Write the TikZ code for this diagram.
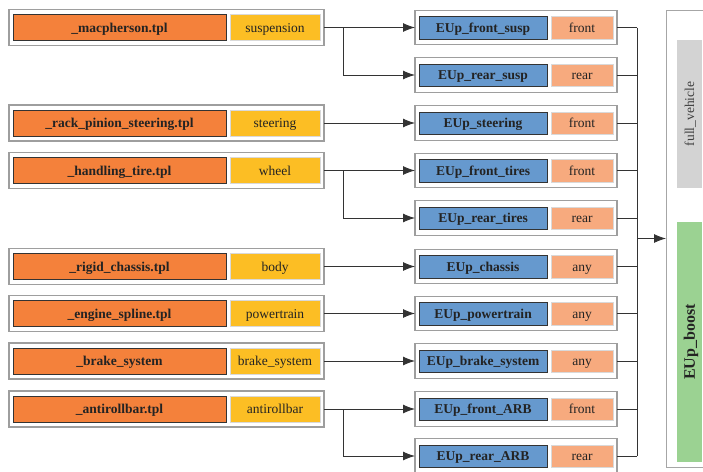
\documentclass[tikz,border=0pt]{standalone}
\usepackage{fontspec}
\setmainfont{Liberation Serif}
\usetikzlibrary{positioning,fit,arrows.meta}

\definecolor{tplorange}{RGB}{244,129,59}
\definecolor{roleyellow}{RGB}{252,190,36}
\definecolor{subblue}{RGB}{102,153,206}
\definecolor{sidesalmon}{RGB}{247,170,126}
\definecolor{asmgray}{RGB}{211,211,211}
\definecolor{asmgreen}{RGB}{155,210,146}
\definecolor{inktext}{RGB}{35,35,35}

\begin{document}
\begin{tikzpicture}
    [ x=1pt, y=-1pt
    , every node/.style={font=\fontsize{13.5}{15}\selectfont, text=inktext, inner sep=0pt, outer sep=0pt, text height=9pt, text depth=0pt}
    , tplfile/.style={draw=black!80, fill=tplorange, minimum width=213pt, minimum height=26pt, font=\fontsize{13.5}{15}\selectfont\bfseries}
    , role/.style={draw=black!15, fill=roleyellow, minimum width=90pt, minimum height=26pt}
    , subsys/.style={draw=black!80, fill=subblue, minimum width=128pt, minimum height=22.5pt, font=\fontsize{13.5}{15}\selectfont\bfseries}
    , side/.style={draw=black!15, fill=sidesalmon, minimum width=62pt, minimum height=22.5pt}
    , frame/.style={draw=black!38, line width=1.4pt, inner xsep=4pt, inner ysep=5pt}
    , link/.style={draw=black!80, line width=0.9pt}
    , feed/.style={link, -{Latex[length=12pt,width=9pt]}}
    ]

    \useasboundingbox (0,0) rectangle (703,471);
    \clip (0,0) rectangle (703,471);

    % template files and their roles
    \node [tplfile] (mac) at (119.5,27.5) {\_macpherson.tpl};
    \node [role, right=4pt of mac] (mac-r) {suspension};
    \node [frame, fit=(mac)(mac-r)] (mac-f) {};

    \node [tplfile] (rack) at (119.5,123) {\_rack\_pinion\_steering.tpl};
    \node [role, right=4pt of rack] (rack-r) {steering};
    \node [frame, fit=(rack)(rack-r)] (rack-f) {};

    \node [tplfile] (hand) at (119.5,170.5) {\_handling\_tire.tpl};
    \node [role, right=4pt of hand] (hand-r) {wheel};
    \node [frame, fit=(hand)(hand-r)] (hand-f) {};

    \node [tplfile] (rig) at (119.5,266.5) {\_rigid\_chassis.tpl};
    \node [role, right=4pt of rig] (rig-r) {body};
    \node [frame, fit=(rig)(rig-r)] (rig-f) {};

    \node [tplfile] (eng) at (119.5,313.5) {\_engine\_spline.tpl};
    \node [role, right=4pt of eng] (eng-r) {powertrain};
    \node [frame, fit=(eng)(eng-r)] (eng-f) {};

    \node [tplfile] (brk) at (119.5,361) {\_brake\_system};
    \node [role, right=4pt of brk] (brk-r) {brake\_system};
    \node [frame, fit=(brk)(brk-r)] (brk-f) {};

    \node [tplfile] (arb) at (119.5,409) {\_antirollbar.tpl};
    \node [role, right=4pt of arb] (arb-r) {antirollbar};
    \node [frame, fit=(arb)(arb-r)] (arb-f) {};

    % subsystems and their sides
    \node [subsys] (fs) at (483,27.5) {EUp\_front\_susp};
    \node [side, right=4pt of fs] (fs-s) {front};
    \node [frame, inner ysep=6pt, fit=(fs)(fs-s)] (fs-f) {};

    \node [subsys] (rs) at (483,75) {EUp\_rear\_susp};
    \node [side, right=4pt of rs] (rs-s) {rear};
    \node [frame, inner ysep=6pt, fit=(rs)(rs-s)] (rs-f) {};

    \node [subsys] (st) at (483,123) {EUp\_steering};
    \node [side, right=4pt of st] (st-s) {front};
    \node [frame, inner ysep=6pt, fit=(st)(st-s)] (st-f) {};

    \node [subsys] (ft) at (483,170.5) {EUp\_front\_tires};
    \node [side, right=4pt of ft] (ft-s) {front};
    \node [frame, inner ysep=6pt, fit=(ft)(ft-s)] (ft-f) {};

    \node [subsys] (rt) at (483,218) {EUp\_rear\_tires};
    \node [side, right=4pt of rt] (rt-s) {rear};
    \node [frame, inner ysep=6pt, fit=(rt)(rt-s)] (rt-f) {};

    \node [subsys] (ch) at (483,266.5) {EUp\_chassis};
    \node [side, right=4pt of ch] (ch-s) {any};
    \node [frame, inner ysep=6pt, fit=(ch)(ch-s)] (ch-f) {};

    \node [subsys] (pt) at (483,313.5) {EUp\_powertrain};
    \node [side, right=4pt of pt] (pt-s) {any};
    \node [frame, inner ysep=6pt, fit=(pt)(pt-s)] (pt-f) {};

    \node [subsys] (bs) at (483,361) {EUp\_brake\_system};
    \node [side, right=4pt of bs] (bs-s) {any};
    \node [frame, inner ysep=6pt, fit=(bs)(bs-s)] (bs-f) {};

    \node [subsys] (fa) at (483,409) {EUp\_front\_ARB};
    \node [side, right=4pt of fa] (fa-s) {front};
    \node [frame, inner ysep=6pt, fit=(fa)(fa-s)] (fa-f) {};

    \node [subsys] (ra) at (483,456) {EUp\_rear\_ARB};
    \node [side, right=4pt of ra] (ra-s) {rear};
    \node [frame, inner ysep=6pt, fit=(ra)(ra-s)] (ra-f) {};

    % assembly
    \node [draw=black!35, line width=1pt, minimum width=80pt, minimum height=457pt, anchor=north west] (veh) at (666,10) {};
    \node [rotate=90, fill=asmgray, minimum width=148pt, minimum height=25pt, text=black!75, font=\fontsize{13.5}{14}\selectfont] (full) at (689.5,114) {full\_vehicle};
    \node [rotate=90, fill=asmgreen, minimum width=240pt, minimum height=25pt, font=\fontsize{16}{17}\selectfont\bfseries, text height=10.5pt] (boost) at (689.5,342) {EUp\_boost};

    \coordinate (split) at (343,0);
    \coordinate (bus) at (637,0);

    % templates to subsystems
    \draw [feed] (mac-f.east) -- (fs-f.west);
    \draw [feed] (mac-f.east -| split) |- (rs-f.west);
    \draw [feed] (rack-f.east) -- (st-f.west);
    \draw [feed] (hand-f.east) -- (ft-f.west);
    \draw [feed] (hand-f.east -| split) |- (rt-f.west);
    \draw [feed] (rig-f.east) -- (ch-f.west);
    \draw [feed] (eng-f.east) -- (pt-f.west);
    \draw [feed] (brk-f.east) -- (bs-f.west);
    \draw [feed] (arb-f.east) -- (fa-f.west);
    \draw [feed] (arb-f.east -| split) |- (ra-f.west);

    % subsystems to assembly
    \draw [link] (fs-f.east) -- (fs-f.east -| bus);
    \draw [link] (rs-f.east) -- (rs-f.east -| bus);
    \draw [link] (st-f.east) -- (st-f.east -| bus);
    \draw [link] (ft-f.east) -- (ft-f.east -| bus);
    \draw [link] (rt-f.east) -- (rt-f.east -| bus);
    \draw [link] (ch-f.east) -- (ch-f.east -| bus);
    \draw [link] (pt-f.east) -- (pt-f.east -| bus);
    \draw [link] (bs-f.east) -- (bs-f.east -| bus);
    \draw [link] (fa-f.east) -- (fa-f.east -| bus);
    \draw [link] (ra-f.east) -- (ra-f.east -| bus);
    \draw [link] (fs-f.east -| bus) -- (ra-f.east -| bus);
    \draw [feed] (veh.west -| bus) -- (veh.west);
  \end{tikzpicture}
\end{document}
